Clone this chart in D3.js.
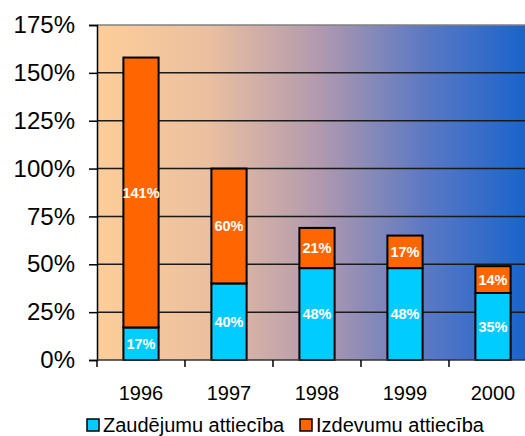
<!DOCTYPE html>
<html>
<head>
<meta charset="utf-8">
<script src="https://cdn.jsdelivr.net/npm/d3@7"></script>
<style>
  body { margin: 0; background: #fff; }
  text { font-family: Arial, "Liberation Sans", sans-serif; }
</style>
</head>
<body>
<script>
// chart data
let years = ["1996", "1997", "1998", "1999", "2000"];
let lossRatio = [17, 40, 48, 48, 35];      // Zaudējumu attiecība
let costRatio = [141, 60, 21, 17, 14];     // Izdevumu attiecība
let yTicks = [0, 25, 50, 75, 100, 125, 150, 175];
let seriesNames = ["Zaudējumu attiecība", "Izdevumu attiecība"];
let seriesColors = ["#00ccff", "#ff6600"];

let width = 525;
let height = 436;
let margin = ({top: 25, right: -12, bottom: 76, left: 97});

let svg = d3.select("body")
  .append("svg")
  .attr("width", width)
  .attr("height", height);

// scales
let x = d3.scaleBand()
  .domain(years)
  .range([margin.left, width - margin.right])
  .paddingInner(0.6)
  .paddingOuter(0.3);

let y = d3.scaleLinear()
  .domain([0, 175])
  .range([height - margin.bottom, margin.top]);

// background gradient
let defs = svg.append("defs");
let grad = defs.append("linearGradient")
  .attr("id", "bg")
  .attr("gradientUnits", "userSpaceOnUse")
  .attr("x1", margin.left).attr("x2", width - margin.right)
  .attr("y1", 0).attr("y2", 0);
grad.append("stop").attr("offset", "0%").attr("stop-color", "#fdcd98");
grad.append("stop").attr("offset", "25%").attr("stop-color", "#ebc0a0");
grad.append("stop").attr("offset", "50%").attr("stop-color", "#b39aae");
grad.append("stop").attr("offset", "75%").attr("stop-color", "#5a78c4");
grad.append("stop").attr("offset", "100%").attr("stop-color", "#1262cc");

svg.append("rect")
  .attr("x", margin.left)
  .attr("y", y(175))
  .attr("width", width - margin.right - margin.left)
  .attr("height", y(0) - y(175))
  .attr("fill", "url(#bg)");

// gridlines
svg.append("g")
  .selectAll("line")
  .data(yTicks.filter(d => d > 0))
  .join("line")
    .attr("x1", margin.left)
    .attr("x2", width - margin.right)
    .attr("y1", d => y(d))
    .attr("y2", d => y(d))
    .attr("stroke", d => d == 175 ? "#808080" : "#1a1a1a")
    .attr("stroke-width", 1.5);

// stacked bars
let stacked = years.map((yr, i) => ({year: yr, vals: [lossRatio[i], costRatio[i]]}));

let barG = svg.append("g");
stacked.forEach(d => {
  let base = 0;
  d.vals.forEach((v, k) => {
    barG.append("rect")
      .attr("x", x(d.year))
      .attr("y", y(base + v))
      .attr("width", x.bandwidth())
      .attr("height", y(base) - y(base + v))
      .attr("fill", seriesColors[k])
      .attr("stroke", "#000")
      .attr("stroke-width", 2);
    barG.append("text")
      .attr("x", x(d.year) + x.bandwidth() / 2)
      .attr("y", y(base + v / 2))
      .attr("dy", "0.35em")
      .attr("text-anchor", "middle")
      .attr("fill", "#fff")
      .attr("font-weight", "bold")
      .attr("font-size", 14.5)
      .text(v + "%");
    base += v;
  });
});

// y axis
let yAxis = g => g
  .attr("transform", `translate(${margin.left},0)`)
  .call(d3.axisLeft(y).tickValues(yTicks).tickFormat(d => d + "%").tickSize(8).tickPadding(14))
  .call(g => g.selectAll(".domain").attr("stroke", "#000").attr("stroke-width", 1.5))
  .call(g => g.selectAll(".tick line").attr("stroke", "#000").attr("stroke-width", 1.5))
  .call(g => g.selectAll("text").attr("font-size", 24).attr("fill", "#000")
    .style("font-family", "Arial, 'Liberation Sans', sans-serif"));

svg.append("g").call(yAxis);

// x axis
let step = x.step();
let xAxis = g => g
  .attr("transform", `translate(0,${y(0)})`)
  .call(g => g.append("line")
    .attr("x1", margin.left).attr("x2", width - margin.right)
    .attr("stroke", "#333").attr("stroke-width", 1.5))
  .call(g => g.selectAll(".tk")
    .data(years)
    .join("line")
      .attr("class", "tk")
      .attr("x1", d => x(d) + x.bandwidth() / 2 - step / 2)
      .attr("x2", d => x(d) + x.bandwidth() / 2 - step / 2)
      .attr("y1", 0).attr("y2", 7)
      .attr("stroke", "#000").attr("stroke-width", 1.5))
  .call(g => g.selectAll(".lbl")
    .data(years)
    .join("text")
      .attr("class", "lbl")
      .attr("x", d => x(d) + x.bandwidth() / 2)
      .attr("y", 33)
      .attr("dy", "0.35em")
      .attr("text-anchor", "middle")
      .attr("font-size", 20)
      .text(d => d));

svg.append("g").call(xAxis);

// legend
let legend = svg.append("g").attr("transform", `translate(0,${height - 11})`);
let legX = [87, 300];
seriesNames.forEach((name, k) => {
  legend.append("rect")
    .attr("x", legX[k]).attr("y", -6)
    .attr("width", 12).attr("height", 12)
    .attr("fill", seriesColors[k])
    .attr("stroke", "#000").attr("stroke-width", 1.5);
  legend.append("text")
    .attr("x", legX[k] + 16)
    .attr("y", 0)
    .attr("dy", "0.35em")
    .attr("font-size", 20)
    .text(name);
});
</script>
</body>
</html>
